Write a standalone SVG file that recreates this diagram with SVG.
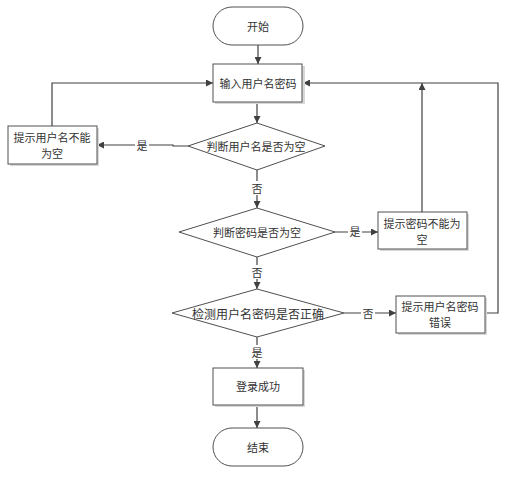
<svg xmlns="http://www.w3.org/2000/svg" width="509" height="482" viewBox="0 0 509 482">
<style>
.shape{fill:#fff;stroke:#505050;stroke-width:1}
.shadow{fill:#d8d8d8}
.line{fill:none;stroke:#404040;stroke-width:1.2}
text{font-family:"Noto Sans CJK SC","Liberation Sans",sans-serif;font-size:11px;fill:#333;text-anchor:middle;dominant-baseline:central}
.lbl{fill:#fff}
</style>
<defs>
<marker id="arr" viewBox="0 0 10 10" refX="10" refY="5" markerWidth="7" markerHeight="7" markerUnits="userSpaceOnUse" orient="auto">
<path d="M0,0 L10,5 L0,10 z" fill="#404040"/>
</marker>
</defs>
<rect width="509" height="482" fill="#fff"/>
<g id="connectors">
<path class="line" d="M258,45 V64" marker-end="url(#arr)"/>
<path class="line" d="M257,102 V123" marker-end="url(#arr)"/>
<path class="line" d="M188,146 H173 V145 H97" marker-end="url(#arr)"/>
<path class="line" d="M52,126 V83 H213" marker-end="url(#arr)"/>
<path class="line" d="M257,170 V208" marker-end="url(#arr)"/>
<path class="line" d="M335,232 H378" marker-end="url(#arr)"/>
<path class="line" d="M422,212 V83" marker-end="url(#arr)"/>
<path class="line" d="M257,257 V289" marker-end="url(#arr)"/>
<path class="line" d="M344,313 H396" marker-end="url(#arr)"/>
<path class="line" d="M485,313 H498 V83 H303" marker-end="url(#arr)"/>
<path class="line" d="M257,337 V368" marker-end="url(#arr)"/>
<path class="line" d="M257,405 V428" marker-end="url(#arr)"/>
<rect class="lbl" x="135" y="138" width="14" height="14"/>
<text x="142" y="145">是</text>
<rect class="lbl" x="250" y="181" width="14" height="14"/>
<text x="257" y="188">否</text>
<rect class="lbl" x="348" y="224" width="14" height="14"/>
<text x="355" y="231">是</text>
<rect class="lbl" x="250" y="265" width="14" height="14"/>
<text x="257" y="272">否</text>
<rect class="lbl" x="361" y="306" width="14" height="14"/>
<text x="368" y="313">否</text>
<rect class="lbl" x="250" y="345" width="14" height="14"/>
<text x="257" y="352">是</text>
</g>
<g id="start">
<rect class="shape" x="213" y="7" width="90" height="38" rx="19"/>
<text x="258" y="26">开始</text>
</g>
<g id="input">
<rect class="shadow" x="215" y="66" width="90" height="38"/>
<rect class="shape" x="213" y="64" width="89" height="38"/>
<text x="258" y="83">输入用户名密码</text>
</g>
<g id="check-user">
<polygon class="shape" points="257,123 325,146 257,170 188,146"/>
<text x="256" y="146">判断用户名是否为空</text>
</g>
<g id="user-empty">
<rect class="shadow" x="10" y="128" width="89" height="38"/>
<rect class="shape" x="8" y="126" width="89" height="38"/>
<text x="52" y="137"><tspan x="52">提示用户名不能</tspan><tspan x="52" dy="16">为空</tspan></text>
</g>
<g id="check-pass">
<polygon class="shape" points="257,208 335,232 257,257 179,232"/>
<text x="257" y="232">判断密码是否为空</text>
</g>
<g id="pass-empty">
<rect class="shadow" x="380" y="214" width="89" height="37"/>
<rect class="shape" x="378" y="212" width="89" height="37"/>
<text x="422" y="222.5"><tspan x="422">提示密码不能为</tspan><tspan x="422" dy="16">空</tspan></text>
</g>
<g id="check-both">
<polygon class="shape" points="257,289 344,313 257,337 172,313"/>
<text x="258" y="313" style="font-size:12px">检测用户名密码是否正确</text>
</g>
<g id="wrong">
<rect class="shadow" x="398" y="298" width="89" height="37"/>
<rect class="shape" x="396" y="296" width="89" height="37"/>
<text x="440" y="306"><tspan x="440">提示用户名密码</tspan><tspan x="440" dy="15.5">错误</tspan></text>
</g>
<g id="success">
<rect class="shadow" x="215" y="370" width="90" height="37"/>
<rect class="shape" x="213" y="368" width="90" height="37"/>
<text x="258" y="386">登录成功</text>
</g>
<g id="end">
<rect class="shape" x="213" y="428" width="90" height="38" rx="19"/>
<text x="258" y="447">结束</text>
</g>
</svg>
